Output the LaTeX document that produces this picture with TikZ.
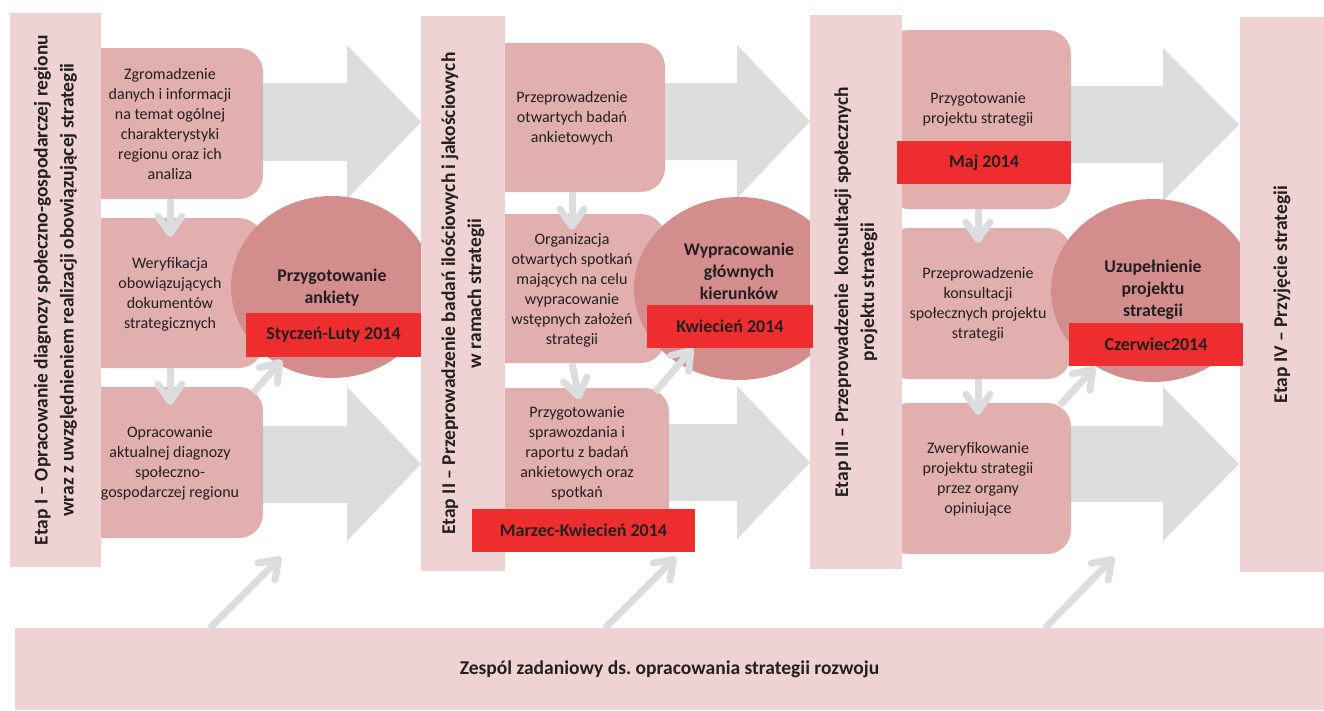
\documentclass[tikz,border=0pt]{standalone}
\usepackage{fontspec}
\setmainfont{Carlito}
\usetikzlibrary{arrows.meta,shapes.geometric}
\definecolor{barpink}{RGB}{239,211,212}
\definecolor{boxpink}{RGB}{226,175,175}
\definecolor{circpink}{RGB}{212,141,141}
\definecolor{redlab}{RGB}{238,46,46}
\definecolor{agray}{RGB}{220,221,223}
\definecolor{txt}{RGB}{35,31,32}
\frenchspacing
\begin{document}
\begin{tikzpicture}[x=1pt,y=-1pt,
  bigarrow/.style={fill=agray},
  boxnode/.style={rectangle,rounded corners=24pt,fill=boxpink,inner sep=0pt,minimum width=186pt},
  boxtext/.style={text=txt,align=center,font=\fontsize{16}{20}\selectfont},
  circnode/.style={ellipse,fill=circpink,inner sep=0pt},
  circtext/.style={text=txt,align=center,font=\bfseries\fontsize{17.8}{22}\selectfont},
  barnode/.style={rectangle,fill=barpink,inner sep=0pt,text=txt,align=center,font=\bfseries\fontsize{19.5}{26}\selectfont},
  redlabel/.style={rectangle,fill=redlab,inner sep=0pt,minimum height=43pt,text=txt,font=\bfseries\fontsize{18}{20}\selectfont},
  darr/.style={draw=agray,line width=7pt,-{Straight Barb[round,length=17pt,width=24pt]}},
]
\useasboundingbox (0,0) rectangle (1324,710);

% big gray arrows
\fill[bigarrow] (250,83) -- (347,83) -- (347,45) -- (421,122) -- (347,199) -- (347,161) -- (250,161) -- cycle;
\fill[bigarrow] (250,426) -- (347,426) -- (347,387) -- (421,464) -- (347,541) -- (347,503) -- (250,503) -- cycle;
\fill[bigarrow] (650,83) -- (737,83) -- (737,45) -- (810,121.5) -- (737,198) -- (737,160) -- (650,160) -- cycle;
\fill[bigarrow] (650,424) -- (737,424) -- (737,386) -- (810,462.5) -- (737,539) -- (737,501) -- (650,501) -- cycle;
\fill[bigarrow] (1060,86) -- (1163,86) -- (1163,48) -- (1239,124.5) -- (1163,201) -- (1163,163) -- (1060,163) -- cycle;
\fill[bigarrow] (1060,426) -- (1163,426) -- (1163,387) -- (1239,464) -- (1163,541) -- (1163,502) -- (1060,502) -- cycle;

% boxes
\node[boxnode,minimum height=151pt] (b11) at (170,123.5) {};
\node[boxnode,minimum height=150pt] (b12) at (170,293) {};
\node[boxnode,minimum height=151pt] (b13) at (170,462.5) {};
\node[boxnode,minimum height=149pt] (b21) at (572,117.5) {};
\node[boxnode,minimum height=149pt] (b22) at (572,288.5) {};
\node[boxnode,minimum width=184pt,minimum height=152pt] (b23) at (577,464) {};
\node[boxnode,minimum height=179pt] (b31) at (978,119.5) {};
\node[boxnode,minimum height=151pt] (b32) at (978,303.5) {};
\node[boxnode,minimum height=151pt] (b33) at (978,478.5) {};

% box texts
\node[boxtext] (t11) at (170,124) {Zgromadzenie\\danych i informacji\\na temat ogólnej\\charakterystyki\\regionu oraz ich\\analiza};
\node[boxtext] (t12) at (170,294) {Weryfikacja\\obowiązujących\\dokumentów\\strategicznych};
\node[boxtext] (t13) at (170,463) {Opracowanie\\aktualnej diagnozy\\społeczno-\\gospodarczej regionu};
\node[boxtext] (t21) at (572,118) {Przeprowadzenie\\otwartych badań\\ankietowych};
\node[boxtext] (t22) at (572,290) {Organizacja\\otwartych spotkań\\mających na celu\\wypracowanie\\wstępnych założeń\\strategii};
\node[boxtext] (t23) at (577,453.5) {Przygotowanie\\sprawozdania i\\raportu z badań\\ankietowych oraz\\spotkań};
\node[boxtext] (t31) at (978,109) {Przygotowanie\\projektu strategii};
\node[boxtext] (t32) at (978,304.5) {Przeprowadzenie\\konsultacji\\społecznych projektu\\strategii};
\node[boxtext] (t33) at (978,479) {Zweryfikowanie\\projektu strategii\\przez organy\\opiniujące};

% circles
\node[circnode,minimum width=202pt,minimum height=182pt] (c1) at (332,287) {};
\node[circnode,minimum width=210pt,minimum height=183pt] (c2) at (739,288.5) {};
\node[circnode,minimum width=204pt,minimum height=183pt] (c3) at (1153,290.5) {};
\node[circtext] (ct1) at (332,288) {Przygotowanie\\ankiety};
\node[circtext] (ct2) at (739,271) {Wypracowanie\\głównych\\kierunków};
\node[circtext] (ct3) at (1153,290) {Uzupełnienie\\projektu\\strategii};

% stage bars
\node[barnode,rotate=90,minimum width=554pt,minimum height=91pt] (e1) at (55.5,290) {Etap I – Opracowanie diagnozy społeczno-gospodarczej regionu\\wraz z uwzględnieniem realizacji obowiązującej strategii};
\node[barnode,rotate=90,minimum width=555pt,minimum height=84pt] (e2) at (463,293.5) {Etap II – Przeprowadzenie badań ilościowych i jakościowych\\w ramach strategii};
\node[barnode,rotate=90,minimum width=554pt,minimum height=92pt] (e3) at (856,292) {Etap III – Przeprowadzenie\ \ konsultacji społecznych\\projektu strategii};
\node[barnode,rotate=90,minimum width=555pt,minimum height=84pt] (e4) at (1282,294.5) {Etap IV – Przyjęcie strategii};
\node[barnode,minimum width=1309pt,minimum height=82pt] (zb) at (669.5,669) {Zespól zadaniowy ds. opracowania strategii rozwoju};

% small down arrows
\draw[darr,shorten >=-19pt] (b11.south) -- (b12.north);
\draw[darr,shorten >=-18pt] (b12.south) -- (b13.north);
\draw[darr,shorten >=-16pt] (b21.south) -- (b22.north);
\draw[darr,shorten >=-12pt] (b22.south) -- (b23.north);
\draw[darr,shorten >=-15pt] (b31.south) -- (b32.north);
\draw[darr,shorten >=-12pt] (b32.south) -- (b33.north);

% diagonal arrows
\coordinate (d1s) at (253,393); \coordinate (d1e) at (282,360);
\coordinate (d2s) at (655,392); \coordinate (d2e) at (693,348);
\coordinate (d3s) at (1060,405); \coordinate (d3e) at (1095,367);
\coordinate (z1s) at (210,628); \coordinate (z1e) at (281,557);
\coordinate (z2s) at (605,628); \coordinate (z2e) at (676,557);
\coordinate (z3s) at (1045,628); \coordinate (z3e) at (1114,557);
\draw[darr] (d1s) -- (d1e);
\draw[darr] (d2s) -- (d2e);
\draw[darr] (d3s) -- (d3e);
\draw[darr] (z1s) -- (z1e);
\draw[darr] (z2s) -- (z2e);
\draw[darr] (z3s) -- (z3e);

% red labels
\node[redlabel,minimum width=175pt,minimum height=44pt] (l1) at (333.5,335) {Styczeń-Luty 2014};
\node[redlabel,minimum width=166pt] (l2) at (730,326.5) {Kwiecień 2014};
\node[redlabel,minimum width=223pt] (l3) at (583.5,530.5) {Marzec-Kwiecień 2014};
\node[redlabel,minimum width=174pt] (l4) at (984,162.5) {Maj 2014};
\node[redlabel,minimum width=174pt] (l5) at (1156,344.5) {Czerwiec2014};
\end{tikzpicture}
\end{document}
